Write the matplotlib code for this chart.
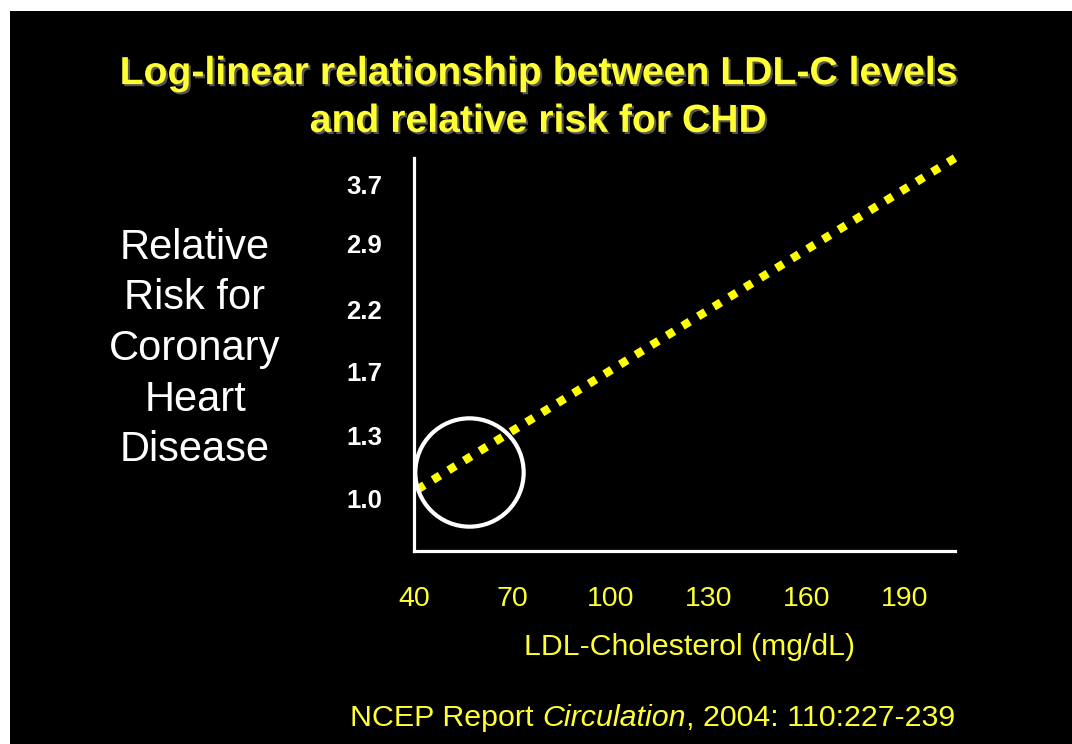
import matplotlib
matplotlib.use("Agg")
import matplotlib.pyplot as plt
import matplotlib.patheffects as pe
from matplotlib.patches import Rectangle

plt.rcParams['font.family'] = ['Liberation Sans', 'DejaVu Sans']

# ---- data ----
x_ticks = [40, 70, 100, 130, 160, 190]
y_ticks = [1.0, 1.3, 1.7, 2.2, 2.9, 3.7]
y_ticklabels = ['1.0', '1.3', '1.7', '2.2', '2.9', '3.7']
line_ldl = [41, 206]
line_rr = [1.04, 4.16]
circle_ldl = [56.8]
circle_rr = [1.12]

title = "Log-linear relationship between LDL-C levels\nand relative risk for CHD"
ylabel = "Relative\nRisk for\nCoronary\nHeart\nDisease"
xlabel = "LDL-Cholesterol (mg/dL)"

W, H = 1072, 744
YEL = '#FFFF33'
fig = plt.figure(figsize=(W / 100, H / 100), dpi=100)
fig.patch.set_facecolor('white')
fig.add_artist(Rectangle((10 / W, 0), 1, (H - 11) / H, transform=fig.transFigure,
                         facecolor='black', edgecolor='none', zorder=0))

def fx(px):
    return px / W

def fy(py):
    return 1 - py / H

ax = fig.add_axes([fx(414), fy(551), fx(955) - fx(414), fy(158) - fy(551)])
ax.set_facecolor('black')
ax.set_yscale('log')
ax.set_xlim(40, 205.4)
ax.set_ylim(0.805, 4.14)

for s in ['top', 'right']:
    ax.spines[s].set_visible(False)
for s in ['left', 'bottom']:
    ax.spines[s].set_color('white')
    ax.spines[s].set_linewidth(2.3)

ax.set_xticks(x_ticks)
ax.set_xticklabels([str(v) for v in x_ticks], color=YEL, fontsize=20.5)
ax.set_yticks(y_ticks)
ax.set_yticklabels(y_ticklabels, color='white', fontsize=18.5, fontweight='bold')
ax.minorticks_off()
ax.tick_params(axis='x', length=0, pad=25)
ax.tick_params(axis='y', length=0, pad=23, which='both')

ax.plot(line_ldl, line_rr, color='#FFFF00', linewidth=6.0,
        linestyle=(0, (1, 1.2)), dash_capstyle='butt', clip_on=False, zorder=3)
ax.plot(circle_ldl, circle_rr, marker='o', markersize=78, markerfacecolor='none',
        markeredgecolor='white', markeredgewidth=3.0, linestyle='none',
        clip_on=False, zorder=4)

# title
fig.text(fx(538), fy(98), title, ha='center', va='center', color=YEL,
         fontsize=28.2, fontweight='bold', linespacing=1.42,
         path_effects=[pe.withSimplePatchShadow(offset=(1.5, -1.5),
                                                shadow_rgbFace='#555555', alpha=1)])

# y label
fig.text(fx(195), fy(349), ylabel, ha='center', va='center', color='white',
         fontsize=30, linespacing=1.34)

# x label
fig.text(fx(690), fy(647), xlabel, ha='center', va='center', color=YEL, fontsize=21.8)

# footer
fs = 21.9
t1 = fig.text(fx(350), fy(718), "NCEP Report ", ha='left', va='center',
              color=YEL, fontsize=fs)
t2 = plt.annotate("Circulation", xy=(1, 0), xycoords=t1, ha='left', va='bottom',
                  color=YEL, fontsize=fs, style='italic', annotation_clip=False)
t3 = plt.annotate(", 2004: 110:227-239", xy=(1, 0), xycoords=t2, ha='left', va='bottom',
                  color=YEL, fontsize=fs, annotation_clip=False)

fig.savefig('out.png', dpi=100, facecolor=fig.get_facecolor())
